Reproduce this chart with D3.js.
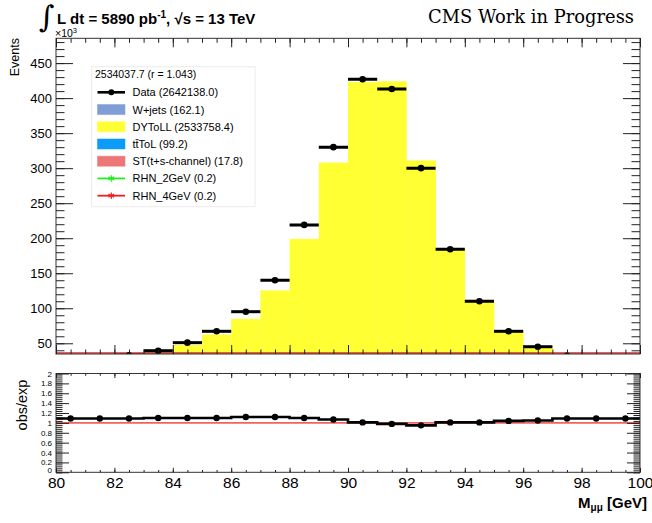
<!DOCTYPE html>
<html>
<head>
<meta charset="utf-8">
<script src="https://cdn.jsdelivr.net/npm/d3@7"></script>
<style>
  html, body { margin: 0; padding: 0; background: #fff; }
  svg { display: block; }
</style>
</head>
<body>
<svg id="chart" width="652" height="523" font-family="Liberation Sans, Arial, sans-serif"></svg>
<script>
// Dimuon invariant mass, 1 GeV bins from 80 to 100 GeV (counts in thousands)
const binLow = [80, 81, 82, 83, 84, 85, 86, 87, 88, 89, 90, 91, 92, 93, 94, 95, 96, 97, 98, 99];
const dataCounts = [23.0, 27.8, 32.9, 39.4, 50.9, 67.1, 95.1, 140.0, 219.0, 330.0, 427.0, 413.0, 300.0, 184.3, 110.0, 67.1, 45.1, 32.0, 25.0, 20.5];
const dyCounts = [21.1, 25.5, 30.2, 35.6, 47.5, 62.5, 84.8, 125.5, 199.0, 308.0, 423.0, 424.0, 311.0, 186.0, 112.0, 68.0, 46.0, 29.5, 23.0, 18.8];
const rhnCounts = [0, 0, 0, 0, 0, 0, 0, 0, 0, 0, 0, 0, 0, 0, 0, 0, 0, 0, 0, 0];
const obsOverExp = [1.09, 1.09, 1.09, 1.10, 1.10, 1.10, 1.12, 1.12, 1.10, 1.07, 1.01, 0.98, 0.95, 1.01, 1.01, 1.04, 1.05, 1.09, 1.09, 1.09];

const mainTicks = [50, 100, 150, 200, 250, 300, 350, 400, 450];
const ratioTicks = [0, 0.2, 0.4, 0.6, 0.8, 1, 1.2, 1.4, 1.6, 1.8, 2];
const massTicks = [80, 82, 84, 86, 88, 90, 92, 94, 96, 98, 100];

const legendHeader = "2534037.7 (r = 1.043)";
const legendNames = ["Data (2642138.0)", "W+jets (162.1)", "DYToLL (2533758.4)", "t\u0074\u0304ToL (99.2)", "ST(t+s-channel) (17.8)", "RHN_2GeV (0.2)", "RHN_4GeV (0.2)"];
const legendKinds = ["data", "box", "box", "box", "box", "star", "star"];
const legendColors = ["#000000", "#7f9ed8", "#ffff33", "#0a9cf7", "#ef7676", "#22ee22", "#ee2020"];

const svg = d3.select("#chart");

// panel geometry
const X0 = 56, X1 = 640;
const P1 = {top: 38.3, bottom: 354};
const P2 = {top: 373.5, bottom: 472.3};

const x = d3.scaleLinear().domain([80, 100]).range([X0, X1]);
const y = d3.scaleLinear().domain([34.7, 485.4]).range([P1.bottom, P1.top]);
const yr = d3.scaleLinear().domain([0, 2]).range([P2.bottom, P2.top]);

svg.append("defs").append("clipPath").attr("id", "clipMain")
  .append("rect").attr("x", X0).attr("y", P1.top).attr("width", X1 - X0).attr("height", P1.bottom - P1.top);

const main = svg.append("g").attr("clip-path", "url(#clipMain)");

// Drell-Yan histogram
main.selectAll("rect.dy").data(binLow).join("rect")
  .attr("class", "dy")
  .attr("x", d => x(d))
  .attr("width", d => x(d + 1) - x(d) + 0.3)
  .attr("y", (d, i) => y(dyCounts[i]))
  .attr("height", (d, i) => P1.bottom - y(dyCounts[i]))
  .attr("fill", "#ffff33");

// signal histograms sit at the bottom edge
const stepLine = d3.line().x(d => d[0]).y(d => d[1]);
const rhnPts = [];
binLow.forEach((b, i) => { rhnPts.push([x(b), Math.min(y(rhnCounts[i]), P1.bottom - 1)]); rhnPts.push([x(b + 1), Math.min(y(rhnCounts[i]), P1.bottom - 1)]); });
main.append("path").attr("d", stepLine(rhnPts)).attr("fill", "none").attr("stroke", "#e02828").attr("stroke-width", 1.6);

// data points with bin-width bars
const dataG = main.append("g");
binLow.forEach((b, i) => {
  dataG.append("line")
    .attr("x1", x(b)).attr("x2", x(b + 1))
    .attr("y1", y(dataCounts[i])).attr("y2", y(dataCounts[i]))
    .attr("stroke", "#000").attr("stroke-width", 3);
  dataG.append("circle")
    .attr("cx", x(b + 0.5)).attr("cy", y(dataCounts[i])).attr("r", 3.3).attr("fill", "#000");
});

// ratio panel
svg.append("line")
  .attr("x1", X0).attr("x2", X1).attr("y1", yr(1)).attr("y2", yr(1))
  .attr("stroke", "#f26262").attr("stroke-width", 1.6);

const stepPts = [];
binLow.forEach((b, i) => { stepPts.push([x(b), yr(obsOverExp[i])]); stepPts.push([x(b + 1), yr(obsOverExp[i])]); });
svg.append("path").attr("d", stepLine(stepPts)).attr("fill", "none").attr("stroke", "#000").attr("stroke-width", 2.6);
svg.selectAll("circle.r").data(binLow).join("circle").attr("class", "r")
  .attr("cx", d => x(d + 0.5)).attr("cy", (d, i) => yr(obsOverExp[i])).attr("r", 3.2).attr("fill", "#000");

// frames
[P1, P2].forEach(p => {
  svg.append("rect").attr("x", X0).attr("y", p.top).attr("width", X1 - X0).attr("height", p.bottom - p.top)
    .attr("fill", "none").attr("stroke", "#333").attr("stroke-width", 1);
});

function styleAxis(g) {
  g.select(".domain").remove();
  g.selectAll(".tick line").attr("stroke", "#222").attr("stroke-width", 1);
}
function range(a, b, s) { const out = []; for (let v = a; v <= b + 1e-9; v += s) out.push(+v.toFixed(4)); return out; }
function labelFont(g, size) {
  g.attr("font-family", null).attr("font-size", null);
  g.selectAll("text").attr("font-size", size).attr("fill", "#000");
}

// axes on the upper panel
const minorX = range(80, 100, 0.5);
svg.append("g").attr("transform", `translate(0,${P1.bottom})`).call(d3.axisBottom(x).tickValues(minorX).tickSize(-4.5).tickFormat("")).call(styleAxis);
svg.append("g").attr("transform", `translate(0,${P1.bottom})`).call(d3.axisBottom(x).tickValues(massTicks).tickSize(-9).tickFormat("")).call(styleAxis);
svg.append("g").attr("transform", `translate(0,${P1.top})`).call(d3.axisTop(x).tickValues(minorX).tickSize(-4.5).tickFormat("")).call(styleAxis);
svg.append("g").attr("transform", `translate(0,${P1.top})`).call(d3.axisTop(x).tickValues(massTicks).tickSize(-9).tickFormat("")).call(styleAxis);

const minorY = range(40, 480, 10);
svg.append("g").attr("transform", `translate(${X0},0)`).call(d3.axisLeft(y).tickValues(minorY).tickSize(-8.5).tickFormat("")).call(styleAxis);
const yAx = svg.append("g").attr("transform", `translate(${X0},0)`).call(d3.axisLeft(y).tickValues(mainTicks).tickSize(-17).tickPadding(4)).call(styleAxis);
labelFont(yAx, 13);
svg.append("g").attr("transform", `translate(${X1},0)`).call(d3.axisRight(y).tickValues(minorY).tickSize(-8.5).tickFormat("")).call(styleAxis);
svg.append("g").attr("transform", `translate(${X1},0)`).call(d3.axisRight(y).tickValues(mainTicks).tickSize(-17).tickFormat("")).call(styleAxis);

// axes on the ratio panel
svg.append("g").attr("transform", `translate(0,${P2.bottom})`).call(d3.axisBottom(x).tickValues(minorX).tickSize(-2.3).tickFormat("")).call(styleAxis);
const xAx = svg.append("g").attr("transform", `translate(0,${P2.bottom})`).call(d3.axisBottom(x).tickValues(massTicks).tickSize(-4.5).tickPadding(5)).call(styleAxis);
labelFont(xAx, 15.5);
svg.append("g").attr("transform", `translate(0,${P2.top})`).call(d3.axisTop(x).tickValues(minorX).tickSize(-2.3).tickFormat("")).call(styleAxis);
svg.append("g").attr("transform", `translate(0,${P2.top})`).call(d3.axisTop(x).tickValues(massTicks).tickSize(-4.5).tickFormat("")).call(styleAxis);

const minorR = range(0, 2, 0.04);
svg.append("g").attr("transform", `translate(${X0},0)`).call(d3.axisLeft(yr).tickValues(minorR).tickSize(-6.5).tickFormat("")).call(styleAxis);
const rAx = svg.append("g").attr("transform", `translate(${X0},0)`).call(d3.axisLeft(yr).tickValues(ratioTicks).tickSize(-13).tickPadding(4).tickFormat(d => String(+d.toFixed(1)))).call(styleAxis);
labelFont(rAx, 8);
rAx.selectAll(".tick").filter(d => d === 0).select("text").attr("dy", "0.05em");
svg.append("g").attr("transform", `translate(${X1},0)`).call(d3.axisRight(yr).tickValues(minorR).tickSize(-6.5).tickFormat("")).call(styleAxis);
svg.append("g").attr("transform", `translate(${X1},0)`).call(d3.axisRight(yr).tickValues(ratioTicks).tickSize(-13).tickFormat("")).call(styleAxis);

// axis titles
svg.append("text").attr("transform", "translate(19,38) rotate(-90)").attr("text-anchor", "end")
  .attr("font-size", 12.5).text("Events");
svg.append("text").attr("transform", "translate(27,405) rotate(-90)").attr("text-anchor", "middle")
  .attr("font-size", 14.5).text("obs/exp");
svg.append("text").attr("x", 55).attr("y", 36.5).attr("font-size", 10.5)
  .text("\u00d710").append("tspan").attr("font-size", 7.5).attr("dy", -4).text("3");

const xt = svg.append("text").attr("x", 647).attr("y", 508).attr("text-anchor", "end")
  .attr("font-size", 15).attr("font-weight", "bold");
xt.append("tspan").text("M");
xt.append("tspan").attr("font-size", 10).attr("dy", 3).text("\u03bc\u03bc");
xt.append("tspan").attr("dy", -3).text(" [GeV]");

// header texts
svg.append("text").attr("x", 39).attr("y", 27).attr("font-size", 30)
  .attr("font-family", "DejaVu Serif, serif").text("\u222b");
const ttl = svg.append("text").attr("x", 57).attr("y", 24).attr("font-size", 15).attr("font-weight", "bold");
ttl.append("tspan").text("L dt = 5890 pb");
ttl.append("tspan").attr("font-size", 10).attr("dy", -6).text("-1");
ttl.append("tspan").attr("dy", 6).text(", \u221as = 13 TeV");

svg.append("text").attr("x", 428).attr("y", 23).attr("font-size", 19)
  .attr("font-family", "DejaVu Serif, Liberation Serif, serif")
  .attr("textLength", 206).attr("lengthAdjust", "spacingAndGlyphs")
  .text("CMS Work in Progress");

// legend
const lg = svg.append("g");
lg.append("rect").attr("x", 91.7).attr("y", 66.7).attr("width", 163.3).attr("height", 140)
  .attr("fill", "#fff").attr("stroke", "#ececec").attr("stroke-width", 1);
lg.append("text").attr("x", 95).attr("y", 77.5).attr("font-size", 10.5).text(legendHeader);
const rowY = i => 92.3 + i * 17.23;
legendNames.forEach((name, i) => {
  const cy = rowY(i);
  const kind = legendKinds[i], col = legendColors[i];
  if (kind === "box") {
    lg.append("rect").attr("x", 97.5).attr("y", cy - 5).attr("width", 27.5).attr("height", 10)
      .attr("fill", col).attr("stroke", col).attr("stroke-opacity", 0.5);
  } else {
    lg.append("line").attr("x1", 97.5).attr("x2", 125).attr("y1", cy).attr("y2", cy)
      .attr("stroke", col).attr("stroke-width", kind === "data" ? 2.6 : 1.8);
    if (kind === "data") {
      lg.append("circle").attr("cx", 111.3).attr("cy", cy).attr("r", 3).attr("fill", col);
    } else {
      lg.append("path").attr("d", d3.symbol(d3.symbolAsterisk || d3.symbolCross, 30)())
        .attr("transform", `translate(111.3,${cy})`)
        .attr("fill", "none").attr("stroke", col).attr("stroke-width", 1.2);
    }
  }
  lg.append("text").attr("x", 132.5).attr("y", cy + 4).attr("font-size", 11).text(name);
});
</script>
</body>
</html>
